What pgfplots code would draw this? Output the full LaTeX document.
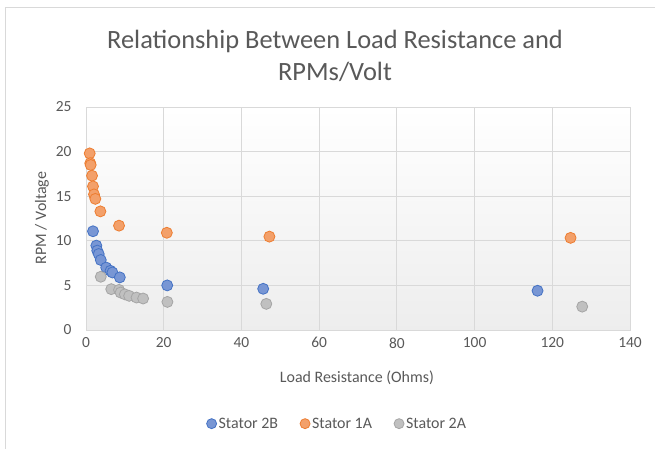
\documentclass[border=0pt]{standalone}
\usepackage{pgfplots}
\pgfplotsset{compat=1.18}
\usepackage{fontspec}
\setmainfont{Carlito}
\definecolor{txt}{RGB}{89,89,89}
\definecolor{grd}{RGB}{217,217,217}
\definecolor{bE}{RGB}{68,114,196}
\definecolor{bF}{RGB}{120,150,212}
\definecolor{oE}{RGB}{237,125,49}
\definecolor{oF}{RGB}{243,160,106}
\definecolor{gE}{RGB}{165,165,165}
\definecolor{gF}{RGB}{192,192,192}
\begin{document}
\begin{tikzpicture}[x=1bp,y=1bp]
\useasboundingbox[fill=white] (0,0) rectangle (655,-449);
\draw[grd,line width=0.8bp] (5,-449) -- (5,-7) -- (655,-7);
\node[txt,font=\fontsize{26.5}{32}\selectfont,align=center] at (335,-56) {Relationship Between Load Resistance and\\RPMs/Volt};
\begin{axis}[
  anchor=south west, at={(86bp,-330bp)},
  width=544bp, height=223bp, scale only axis,
  xmin=0, xmax=140, ymin=0, ymax=25,
  xtick={0,20,...,140}, ytick={0,5,...,25},
  grid=major, grid style={grd,line width=0.8bp},
  axis line style={grd,line width=0.8bp},
  tick style={draw=none},
  axis background/.style={top color=white,bottom color=black!7},
  ticklabel style={txt,font=\fontsize{15.5}{18}\selectfont},
  /pgf/number format/assume math mode=true,
  xticklabel style={yshift=-4bp},
  yticklabel style={xshift=-11bp},
  xlabel={Load Resistance (Ohms)}, ylabel={RPM / Voltage},
  label style={txt,font=\fontsize{16}{19}\selectfont},
  xlabel style={at={(axis description cs:0.498,-0.215)},anchor=center},
  ylabel style={at={(axis description cs:-0.081,0.502)},anchor=center},
  legend style={at={(0.462,-0.42)},anchor=center,draw=none,fill=none,legend columns=-1,
    font=\fontsize{16}{19}\selectfont,text=txt,
    /tikz/every even column/.append style={column sep=20bp}},
  legend image code/.code={\draw[#1,mark size=5bp] plot coordinates {(0bp,0bp)};},
]
\addplot[only marks, mark=*, mark size=5.5bp, mark options={draw=bE,fill=bF,line width=0.8bp}] coordinates {
(1.8,11.07)(2.66,9.46)(2.9,8.9)(3.27,8.52)(3.8,7.85)(5.2,7.0)(6.3,6.64)(6.8,6.45)(8.7,5.9)(20.9,5.0)(45.6,4.62)(116.2,4.4)};
\addlegendentry{Stator 2B}
\addplot[only marks, mark=*, mark size=5.5bp, mark options={draw=oE,fill=oF,line width=0.8bp}] coordinates {
(0.95,19.8)(1.1,18.7)(1.2,18.5)(1.55,17.3)(1.8,16.1)(2.06,15.2)(2.4,14.7)(3.7,13.3)(8.5,11.7)(20.8,10.9)(47.2,10.47)(124.7,10.33)};
\addlegendentry{Stator 1A}
\addplot[only marks, mark=*, mark size=5.5bp, mark options={draw=gE,fill=gF,line width=0.8bp}] coordinates {
(3.8,5.97)(6.5,4.58)(8.5,4.5)(8.9,4.2)(10.0,4.0)(11.1,3.83)(13.0,3.64)(14.7,3.53)(20.95,3.15)(46.4,2.93)(127.7,2.62)};
\addlegendentry{Stator 2A}
\end{axis}
\end{tikzpicture}
\end{document}
